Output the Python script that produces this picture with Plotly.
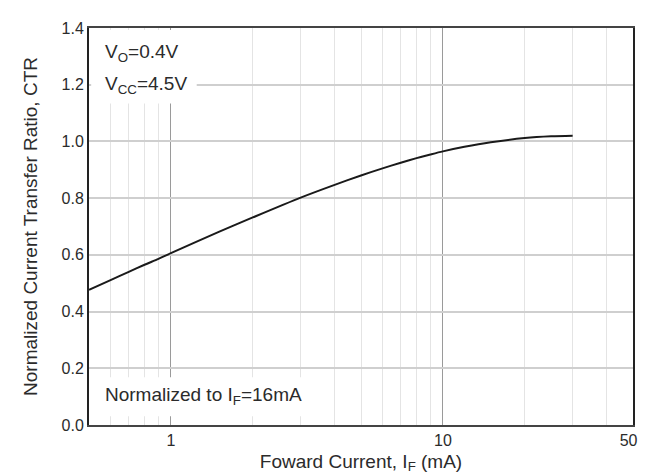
import plotly.graph_objects as go

# Data
forward_current_mA = [0.5, 0.6, 0.7, 0.8, 0.9, 1, 1.5, 2, 3, 4, 5, 6, 7, 8, 9, 10, 12, 15, 20, 25, 30]
normalized_ctr = [0.477, 0.511, 0.540, 0.565, 0.586, 0.606, 0.681, 0.732, 0.802, 0.847, 0.880,
                  0.905, 0.925, 0.941, 0.954, 0.965, 0.981, 0.997, 1.012, 1.018, 1.020]

x_tick_vals = [1, 10, 50]
x_tick_text = ["1", "10", "50&nbsp;&nbsp;"]
x_minor_vals = [0.6, 0.7, 0.8, 0.9, 2, 3, 4, 5, 6, 7, 8, 9, 20, 30, 40]
y_tick_vals = [0.0, 0.2, 0.4, 0.6, 0.8, 1.0, 1.2, 1.4]

FONT = "Liberation Sans, Arial, Helvetica, sans-serif"
TXT = "#2b2b2b"

fig = go.Figure()
fig.add_trace(go.Scatter(
    x=forward_current_mA, y=normalized_ctr, mode="lines",
    line=dict(color="#1a1a1a", width=2, shape="spline", smoothing=0.8),
    showlegend=False, hoverinfo="skip"))

fig.update_layout(
    width=650, height=475,
    margin=dict(l=81, r=17, t=12, b=58),
    paper_bgcolor="white", plot_bgcolor="white",
    font=dict(family=FONT, color=TXT, size=16),
    xaxis=dict(
        type="log", range=[-0.30103, 1.69897],
        tickvals=x_tick_vals, ticktext=x_tick_text,
        tickfont=dict(size=16, color=TXT), ticklabeloverflow="allow",
        showgrid=True, gridcolor="#9a9a9a", gridwidth=1,
        minor=dict(tickvals=x_minor_vals, showgrid=True, gridcolor="#e4e4e4", gridwidth=1.2),
        showline=True, linecolor="#444444", linewidth=2, mirror=True,
        ticks="", zeroline=False,
        title=dict(text="Foward Current, I<sub>F</sub> (mA)", font=dict(size=19, color=TXT), standoff=6),
    ),
    yaxis=dict(
        range=[0, 1.4], tickvals=y_tick_vals, tickformat=".1f",
        tickfont=dict(size=16, color=TXT),
        showgrid=True, gridcolor="#cfcfcf", gridwidth=1.5,
        showline=True, linecolor="#222222", linewidth=2, mirror=True,
        ticks="", zeroline=False,
        title=dict(text="Normalized Current Transfer Ratio, CTR", font=dict(size=19, color=TXT), standoff=19),
    ),
    shapes=[
        dict(type="rect", xref="x domain", yref="y domain", x0=0.004, x1=0.198, y0=0.81, y1=0.995,
             fillcolor="white", line=dict(width=0), layer="above"),
        dict(type="rect", xref="x domain", yref="y domain", x0=0.004, x1=0.43, y0=0.022, y1=0.12,
             fillcolor="white", line=dict(width=0), layer="above"),
    ],
    annotations=[
        dict(text="V<sub>O</sub>=0.4V", xref="x domain", yref="y domain", x=0.026, y=0.936,
             xanchor="left", yanchor="middle", showarrow=False, font=dict(size=19, color=TXT)),
        dict(text="V<sub>CC</sub>=4.5V", xref="x domain", yref="y domain", x=0.026, y=0.857,
             xanchor="left", yanchor="middle", showarrow=False, font=dict(size=19, color=TXT)),
        dict(text="Normalized to I<sub>F</sub>=16mA", xref="x domain", yref="y domain", x=0.026, y=0.074,
             xanchor="left", yanchor="middle", showarrow=False, font=dict(size=19, color=TXT)),
    ],
)

fig.write_html("out.html")
